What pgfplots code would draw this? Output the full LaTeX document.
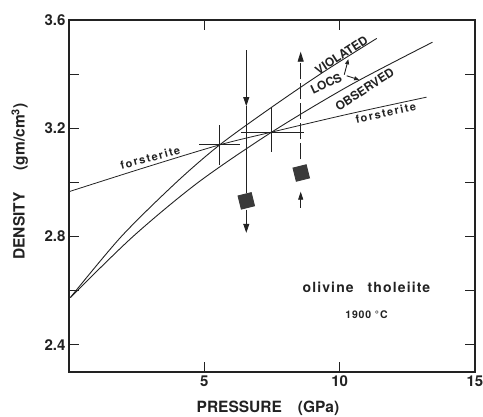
\documentclass[border=0pt]{standalone}
\usepackage{pgfplots}
\pgfplotsset{compat=1.18}
\usepackage{fontspec}
\setmainfont{TeX Gyre Heros}
\usetikzlibrary{arrows.meta}
\definecolor{ink}{HTML}{222222}
\definecolor{sq}{HTML}{3A3A3A}
\begin{document}
\begin{tikzpicture}[x=1pt,y=1pt]
\begin{axis}[
  at={(0,0)}, anchor=south west,
  width=406pt, height=352pt, scale only axis,
  xmin=0, xmax=15, ymin=2.3, ymax=3.6,
  xtick={5,10,15}, xticklabels={5,10,15},
  ytick={2.4,2.6,2.8,3.0,3.2,3.4,3.6},
  yticklabels={2.4,,2.8,,3.2,,3.6},
  tick align=inside, major tick length=10pt,
  xtick pos=both, ytick pos=both,
  xticklabel pos=lower, yticklabel pos=left,
  tick style={line width=1pt, color=ink},
  axis line style={line width=1.1pt, ink},
  ticklabel style={font=\bfseries\fontsize{15}{15}\selectfont, text=ink},
  /pgf/number format/assume math mode=true,
  xlabel={PRESSURE\hspace{16pt}(GPa)},
  ylabel={DENSITY\hspace{22pt}(gm/cm\textsuperscript{3})},
  label style={font=\bfseries\fontsize{15.5}{16}\selectfont, text=ink},
  xlabel style={at={(axis description cs:0.49,-0.102)}, anchor=center},
  ylabel style={at={(axis description cs:-0.121,0.541)}, anchor=center},
  every axis plot/.append style={line width=0.9pt, color=ink},
  clip=false,
]
% VIOLATED locus (upper)
\addplot[smooth] coordinates {(0.05,2.575) (1.93,2.80) (3.96,3.00) (5.57,3.139) (7.49,3.278) (9.4,3.408) (11.37,3.532)};
% OBSERVED locus (lower)
\addplot[smooth] coordinates {(0.05,2.575) (2.36,2.80) (4.77,3.00) (7.49,3.186) (10.4,3.36) (13.43,3.518)};
% forsterite
\addplot[smooth, line width=0.8pt] coordinates {(0,2.966) (2.8,3.055) (5.57,3.139) (7.49,3.186) (10.3,3.252) (13.21,3.315)};
% crosses (error bars)
\addplot[draw=none, mark=none, line width=0.8pt,
  error bars/.cd, x dir=both, x explicit, y dir=both, y explicit, error mark=none,
  error bar style={line width=0.8pt, ink}]
  coordinates {(5.57,3.139) +=(0.74,0.074) -=(0.76,0.073)
               (7.49,3.186) +=(1.19,0.092) -=(1.13,0.075)};
% left vertical arrows
\addplot[line width=0.8pt, -{Triangle[length=9pt,width=6pt]}] coordinates {(6.55,3.489) (6.55,3.282)};
\addplot[line width=0.8pt] coordinates {(6.55,3.282) (6.55,2.96)};
\addplot[line width=0.8pt, -{Triangle[length=9pt,width=6pt]}] coordinates {(6.55,2.90) (6.55,2.814)};
% right vertical arrows
\addplot[line width=0.8pt, dash pattern=on 16pt off 4pt, -{Triangle[length=10pt,width=6pt]}] coordinates {(8.56,3.085) (8.56,3.483)};
\addplot[line width=0.8pt, -{Triangle[length=8pt,width=5pt]}] coordinates {(8.56,2.906) (8.56,2.966)};
% squares
\addplot[only marks, mark=square*, mark size=6.8pt, mark options={rotate=14, fill=sq, draw=sq}] coordinates {(6.55,2.932) (8.58,3.035)};
% labels
\node[inner sep=0pt, font=\bfseries\fontsize{12}{12}\selectfont, text=ink, rotate=33] at (axis cs:10.06,3.470) {VIOLATED};
\node[inner sep=0pt, font=\bfseries\fontsize{12}{12}\selectfont, text=ink, rotate=25] at (axis cs:9.50,3.364) {LOCS};
\node[inner sep=0pt, font=\bfseries\fontsize{12}{12}\selectfont, text=ink, rotate=33] at (axis cs:10.92,3.344) {OBSERVED};
\draw[ink, line width=0.9pt, -{Triangle[length=5pt,width=4pt]}] (axis cs:10.17,3.398) -- (axis cs:10.32,3.455);
\draw[ink, line width=0.9pt, -{Triangle[length=5pt,width=4pt]}] (axis cs:10.26,3.394) -- (axis cs:10.72,3.379);
\node[inner sep=0pt, font=\bfseries\fontsize{11}{11}\selectfont\addfontfeatures{LetterSpace=14}, text=ink, rotate=15] at (axis cs:3.0,3.092) {forsterite};
\node[inner sep=0pt, font=\bfseries\fontsize{11}{11}\selectfont\addfontfeatures{LetterSpace=14}, text=ink, rotate=12] at (axis cs:11.70,3.257) {forsterite};
\node[font=\bfseries\fontsize{14}{14}\selectfont\addfontfeatures{LetterSpace=8}, text=ink] at (axis cs:10.99,2.614) {olivine\hspace{14pt}tholeiite};
\node[font=\bfseries\fontsize{10.5}{10.5}\selectfont\addfontfeatures{LetterSpace=8}, text=ink] at (axis cs:10.99,2.511) {1900 °C};
\end{axis}
\pgfresetboundingbox
\path[use as bounding box] (-69pt,-44pt) rectangle (414pt,372pt);
\end{tikzpicture}
\end{document}
